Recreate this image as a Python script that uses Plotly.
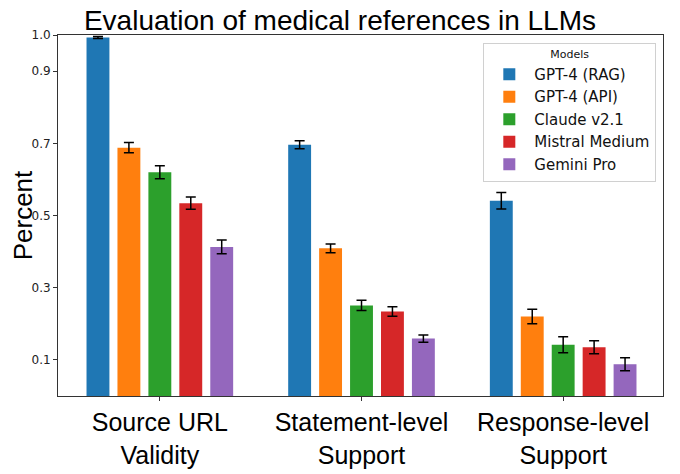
import plotly.graph_objects as go

# Input data
categories = ["Source URL<br>Validity", "Statement-level<br>Support", "Response-level<br>Support"]
models = ["GPT-4 (RAG)", "GPT-4 (API)", "Claude v2.1", "Mistral Medium", "Gemini Pro"]
colors = ["#1f77b4", "#ff7f0e", "#2ca02c", "#d62728", "#9467bd"]

# values per model, in category order
gpt4_rag = [0.993, 0.696, 0.541]
gpt4_api = [0.688, 0.409, 0.220]
claude = [0.620, 0.251, 0.142]
mistral = [0.534, 0.234, 0.135]
gemini = [0.413, 0.159, 0.088]

# error bars (half-width)
gpt4_rag_err = [0.003, 0.011, 0.023]
gpt4_api_err = [0.014, 0.012, 0.020]
claude_err = [0.018, 0.014, 0.022]
mistral_err = [0.017, 0.013, 0.018]
gemini_err = [0.019, 0.010, 0.018]

y_ticks = [0.1, 0.3, 0.5, 0.7, 0.9, 1.0]

values = [gpt4_rag, gpt4_api, claude, mistral, gemini]
errors = [gpt4_rag_err, gpt4_api_err, claude_err, mistral_err, gemini_err]

fig = go.Figure()

for name, color, vals, errs in zip(models, colors, values, errors):
    fig.add_trace(go.Bar(
        x=categories, y=vals, name=name,
        marker=dict(color=color, line=dict(width=0)),
        error_y=dict(type='data', array=errs, visible=True, color='black', thickness=1.5, width=5),
    ))

# page body has an 8px margin, so the figure is a bit smaller than the window
fig.update_layout(
    width=672, height=466,
    plot_bgcolor='white', paper_bgcolor='white',
    margin=dict(l=50, r=17, t=27, b=78, autoexpand=False),
    barmode='group', bargap=0.233, bargroupgap=0.26,
    title=dict(text='Evaluation of medical references in LLMs', x=0.494, xref='container',
               y=0.994, yref='container', yanchor='top',
               font=dict(family='Liberation Sans, Arial', size=28, color='black')),
    font=dict(family='DejaVu Sans', color='#222'),
    legend=dict(x=0.703, y=0.979, xanchor='left', yanchor='top',
                bordercolor='#d0d0d0', borderwidth=1, bgcolor='rgba(255,255,255,0.9)',
                entrywidth=150, itemwidth=40,
                font=dict(family='DejaVu Sans', size=15, color='#111'),
                title=dict(text='Models', side='top center', font=dict(size=11, color='#111'))),
)

fig.update_xaxes(
    range=[-0.505, 2.495], showline=True, linecolor='#333', linewidth=1, mirror=True,
    ticks='outside', ticklen=4, tickcolor='#333', automargin=False,
    tickfont=dict(family='Liberation Sans, Arial', size=25, color='black'),
    showgrid=False,
)
fig.update_yaxes(
    range=[0, 1.0], showline=True, linecolor='#333', linewidth=1, mirror=True,
    ticks='outside', ticklen=4, tickcolor='#333', automargin=False,
    tickvals=y_ticks, ticktext=[f'{t:.1f}' for t in y_ticks],
    tickfont=dict(family='DejaVu Sans', size=12, color='#222'),
    title=dict(text='Percent', font=dict(family='Liberation Sans, Arial', size=26, color='black'), standoff=6),
    showgrid=False, zeroline=False,
)

fig.write_html("out.html")
